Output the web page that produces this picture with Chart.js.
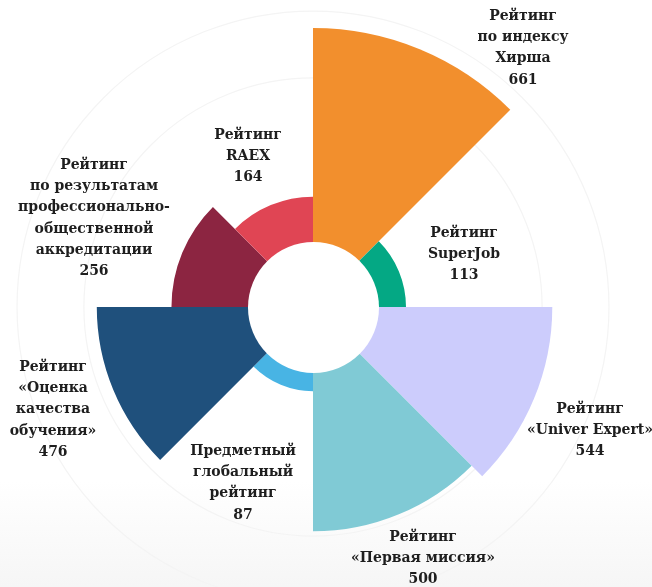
<!DOCTYPE html>
<html lang="ru">
<head>
<meta charset="utf-8">
<title>Рейтинги</title>
<script src="https://cdn.jsdelivr.net/npm/chart.js@4/dist/chart.umd.min.js"></script>
<style>
  html, body { margin: 0; padding: 0; }
  body {
    width: 652px; height: 587px; overflow: hidden;
    background: linear-gradient(to bottom, #ffffff 0%, #ffffff 82%, #f6f6f6 100%);
  }
  #rating-chart { display: block; }
</style>
</head>
<body>
<canvas id="rating-chart" width="652" height="587"></canvas>
<script>
// Data, clockwise from 12 o'clock
var categories = [
  'Рейтинг по индексу Хирша',
  'Рейтинг SuperJob',
  'Рейтинг «Univer Expert»',
  'Рейтинг «Первая миссия»',
  'Предметный глобальный рейтинг',
  'Рейтинг «Оценка качества обучения»',
  'Рейтинг по результатам профессионально-общественной аккредитации',
  'Рейтинг RAEX'
];
var categoryLines = [
  ['Рейтинг', 'по индексу', 'Хирша'],
  ['Рейтинг', 'SuperJob'],
  ['Рейтинг', '«Univer Expert»'],
  ['Рейтинг', '«Первая миссия»'],
  ['Предметный', 'глобальный', 'рейтинг'],
  ['Рейтинг', '«Оценка', 'качества', 'обучения»'],
  ['Рейтинг', 'по результатам', 'профессионально-', 'общественной', 'аккредитации'],
  ['Рейтинг', 'RAEX']
];
var values = [661, 113, 544, 500, 87, 476, 256, 164];
var colors = ['#f28f2d', '#04a884', '#ccccfc', '#80cad5', '#48b4e4', '#1f507c', '#8c2541', '#e04554'];

// label anchors: offset of the first line's centre from the chart centre
var labelOffsets = [
  [210, -291], [151, -74], [277, 102], [110, 230],
  [-70, 144], [-260, 60], [-219, -142], [-65, -172]
];
var ringValues = [514, 711];

(function () {
  function renderRatingChart() {
    var canvasEl = document.getElementById('rating-chart');
    if (!canvasEl || !window.Chart) {
      console.warn('[rating-chart] canvas or Chart.js missing');
      return;
    }
    var ctx = canvasEl.getContext('2d');

    var ringsPlugin = {
      id: 'rings',
      beforeDatasetsDraw: function (chart) {
        var scale = chart.scales.r;
        var c = chart.ctx;
        c.save();
        c.strokeStyle = '#f4f4f4';
        c.lineWidth = 1.2;
        ringValues.forEach(function (v) {
          c.beginPath();
          c.arc(scale.xCenter, scale.yCenter, scale.getDistanceFromCenterForValue(v), 0, Math.PI * 2);
          c.stroke();
        });
        c.restore();
      },
      afterDatasetsDraw: function (chart) {
        // white hole in the middle
        var scale = chart.scales.r;
        var c = chart.ctx;
        c.save();
        c.fillStyle = '#ffffff';
        c.beginPath();
        c.arc(scale.xCenter + 0.5, scale.yCenter + 0.5, 65.5, 0, Math.PI * 2);
        c.fill();
        c.restore();
      }
    };

    var labelsPlugin = {
      id: 'sectorLabels',
      afterDraw: function (chart) {
        var scale = chart.scales.r;
        var c = chart.ctx;
        var lineH = 21.3;
        c.save();
        c.font = 'bold 14px "DejaVu Serif", serif';
        c.fillStyle = '#1e1e1e';
        c.textAlign = 'center';
        c.textBaseline = 'middle';
        categoryLines.forEach(function (lines, i) {
          var x = scale.xCenter + labelOffsets[i][0];
          var y = scale.yCenter + labelOffsets[i][1];
          var all = lines.concat([String(values[i])]);
          all.forEach(function (t, j) {
            c.fillText(t, x, y + j * lineH);
          });
        });
        c.restore();
      }
    };

    new Chart(ctx, {
      type: 'polarArea',
      data: {
        labels: categories,
        datasets: [{
          data: values,
          backgroundColor: colors,
          borderWidth: 0
        }]
      },
      options: {
        responsive: false,
        animation: false,
        devicePixelRatio: 1,
        layout: { padding: { left: 33, right: 59, top: 28, bottom: 0 } },
        scales: {
          r: {
            min: -161,
            max: 661,
            ticks: { display: false },
            grid: { display: false },
            angleLines: { display: false },
            pointLabels: { display: false }
          }
        },
        plugins: {
          legend: { display: false },
          tooltip: { enabled: false }
        }
      },
      plugins: [ringsPlugin, labelsPlugin]
    });
  }

  if (document.readyState === 'loading') {
    document.addEventListener('DOMContentLoaded', renderRatingChart);
  } else {
    renderRatingChart();
  }
})();
</script>
</body>
</html>
